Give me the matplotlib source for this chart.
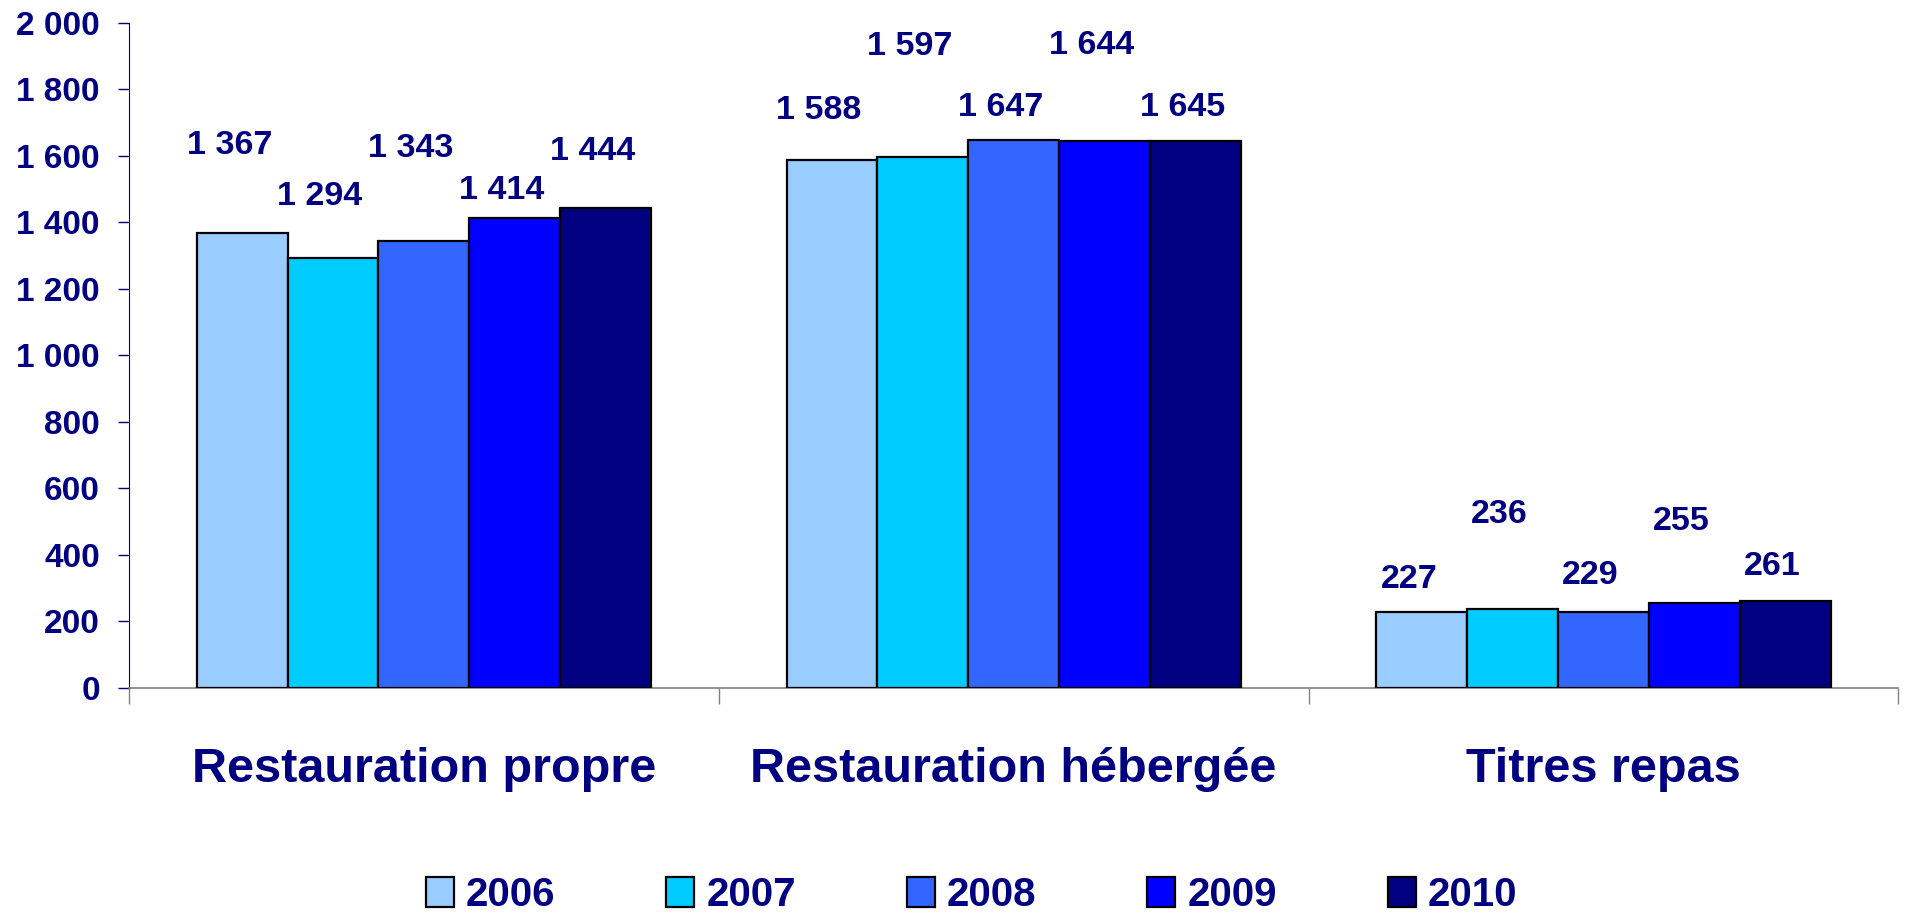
import numpy as np
import matplotlib
matplotlib.use("Agg")
import matplotlib.pyplot as plt
import matplotlib.transforms as mtransforms

plt.rcParams['font.family'] = ['Liberation Sans', 'DejaVu Sans']
plt.rcParams['font.weight'] = 'bold'

categories = ["Restauration propre", "Restauration hébergée", "Titres repas"]
years = ["2006", "2007", "2008", "2009", "2010"]

v2006 = [1367, 1588, 227]
v2007 = [1294, 1597, 236]
v2008 = [1343, 1647, 229]
v2009 = [1414, 1644, 255]
v2010 = [1444, 1645, 261]
values = [v2006, v2007, v2008, v2009, v2010]

# label heights (data units) as placed in the original, per year
lab2006 = [1630, 1737, 327]
lab2007 = [1477, 1928, 521]
lab2008 = [1623, 1747, 337]
lab2009 = [1496, 1933, 501]
lab2010 = [1612, 1747, 366]
label_y = [lab2006, lab2007, lab2008, lab2009, lab2010]

colors = ["#99CCFF", "#00CCFF", "#3366FF", "#0000FF", "#000080"]
navy = "#000080"

fig = plt.figure(figsize=(19.05, 9.17), dpi=100)
ax = fig.add_axes([0.0677, 0.25, 0.9288, 0.7249])

x = np.arange(len(categories))
w = 0.154
for i, yr in enumerate(years):
    pos = x + (i - 2) * w
    ax.bar(pos, values[i], width=w, color=colors[i], edgecolor="black",
           linewidth=1.6, label=yr, zorder=3)
    for px, v, ly in zip(pos, values[i], label_y[i]):
        txt = f"{v:,}".replace(",", " ")
        ax.text(px - 0.022, ly, txt, ha="center", va="center",
                fontsize=24.5, fontweight="bold", color=navy)

ax.set_xlim(-0.5, 2.5)
ax.set_ylim(0, 2000)
ax.set_yticks(np.arange(0, 2001, 200))
ax.set_yticklabels([f"{t:,}".replace(",", " ") for t in range(0, 2001, 200)])
ax.tick_params(axis="y", direction="out", length=8, width=1, color=navy,
               pad=13, labelsize=24, labelcolor=navy)
ax.set_xticks([-0.5, 0.5, 1.5, 2.5])
ax.set_xticklabels([])
ax.tick_params(axis="x", direction="out", length=11.5, width=1, color="#808080")

for s in ["top", "right"]:
    ax.spines[s].set_visible(False)
ax.spines["left"].set_color(navy)
ax.spines["bottom"].set_color("#808080")
ax.spines["bottom"].set_linewidth(1.2)

trans = mtransforms.blended_transform_factory(ax.transData, fig.transFigure)
for xi, cat in zip(x, categories):
    ax.text(xi, 0.1472, cat, transform=trans, ha="center", va="baseline",
            fontsize=35, fontweight="bold", color=navy)

leg = fig.legend(loc="center", bbox_to_anchor=(0.51, 0.024), ncol=5,
                 frameon=False, fontsize=29, handlelength=0.7,
                 handleheight=0.75, handletextpad=0.3, columnspacing=2.75)
for t in leg.get_texts():
    t.set_color(navy)
    t.set_fontweight("bold")

fig.savefig("out.png", dpi=100)
